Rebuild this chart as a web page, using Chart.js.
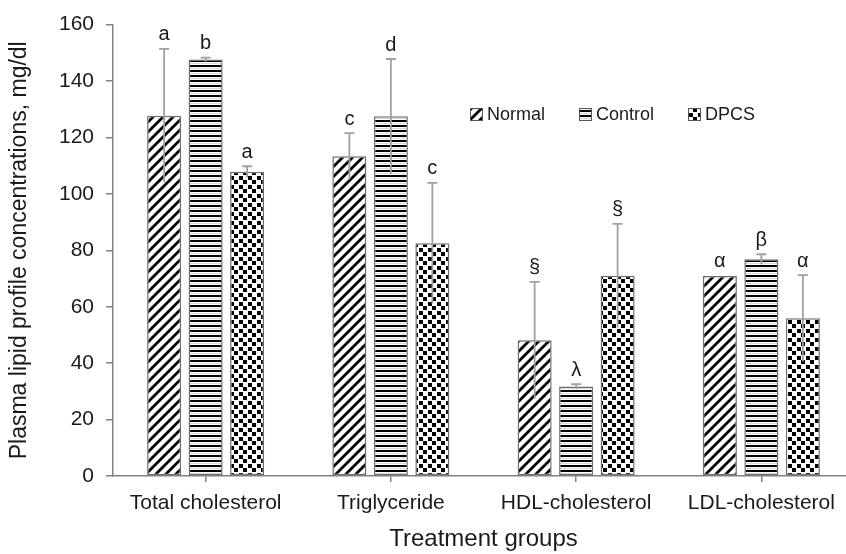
<!DOCTYPE html>
<html>
<head>
<meta charset="utf-8">
<script src="https://cdn.jsdelivr.net/npm/chart.js@4.4.0/dist/chart.umd.min.js"></script>
<style>
html,body{margin:0;padding:0;background:#fff;overflow:hidden;}
#wrap{width:846px;height:554px;overflow:hidden;position:relative;}
canvas{display:block;}
</style>
</head>
<body>
<div id="wrap"><canvas id="c" width="870" height="554"></canvas></div>
<script>
const categories = ['Total cholesterol', 'Triglyceride', 'HDL-cholesterol', 'LDL-cholesterol'];
const seriesNames = ['Normal', 'Control', 'DPCS'];
const normalValues = [127.7, 113.3, 48.1, 70.9];
const controlValues = [147.6, 127.5, 31.7, 76.8];
const dpcsValues = [107.8, 82.5, 71.0, 55.9];
const normalErrors = [23.7, 8.2, 20.7, 0];
const controlErrors = [0.7, 20.3, 0.9, 1.8];
const dpcsErrors = [2.0, 21.4, 18.4, 15.3];
const normalLetters = ['a', 'c', '§', 'α'];
const controlLetters = ['b', 'd', 'λ', 'β'];
const dpcsLetters = ['a', 'c', '§', 'α'];
const yMin = 0, yMax = 160, yStep = 20;
const axisTitleX = 'Treatment groups';
const axisTitleY = 'Plasma lipid profile concentrations, mg/dl';

const FONT = "'Liberation Sans', Arial, sans-serif";
const TXT = '#1a1a1a';
const AXIS = '#808080';

function makePattern(type) {
  const c = document.createElement('canvas');
  const ctx = c.getContext('2d');
  if (type === 'diag') {
    const s = 10;
    c.width = s; c.height = s;
    ctx.fillStyle = '#fff'; ctx.fillRect(0, 0, s, s);
    ctx.strokeStyle = '#000'; ctx.lineWidth = 2.8;
    ctx.beginPath();
    ctx.moveTo(-s, 2 * s); ctx.lineTo(2 * s, -s);
    ctx.moveTo(-s, s); ctx.lineTo(s, -s);
    ctx.moveTo(0, 2 * s); ctx.lineTo(2 * s, 0);
    ctx.stroke();
  } else if (type === 'horiz') {
    c.width = 4; c.height = 5;
    ctx.fillStyle = '#fff'; ctx.fillRect(0, 0, 4, 5);
    ctx.fillStyle = '#000'; ctx.fillRect(0, 0, 4, 2);
    ctx.fillStyle = '#d9d9d9'; ctx.fillRect(0, 3, 4, 1);
  } else {
    c.width = 9; c.height = 9;
    ctx.fillStyle = '#fff'; ctx.fillRect(0, 0, 9, 9);
    ctx.fillStyle = '#000';
    ctx.fillRect(0, 0, 4, 4);
    ctx.fillRect(5, 5, 4, 4);
  }
  return ctx.createPattern(c, 'repeat');
}

const patterns = [makePattern('diag'), makePattern('horiz'), makePattern('checker')];
const values = [normalValues, controlValues, dpcsValues];
const errors = [normalErrors, controlErrors, dpcsErrors];
const letters = [normalLetters, controlLetters, dpcsLetters];

const datasets = seriesNames.map((name, i) => ({
  label: name,
  data: values[i],
  backgroundColor: patterns[i],
  borderColor: '#6e6e6e',
  borderWidth: 1.5,
  borderSkipped: false,
  categoryPercentage: 0.672,
  barPercentage: 0.82
}));

const errorPlugin = {
  id: 'errorBars',
  afterDatasetsDraw(chart) {
    const ctx = chart.ctx;
    const ys = chart.scales.y;
    ctx.save();
    chart.data.datasets.forEach((ds, i) => {
      const meta = chart.getDatasetMeta(i);
      meta.data.forEach((bar, j) => {
        const v = values[i][j], e = errors[i][j];
        const x = bar.x;
        const yTop = ys.getPixelForValue(v + e);
        const yBot = ys.getPixelForValue(v - e);
        if (e > 0) {
          ctx.strokeStyle = '#a0a0a0';
          ctx.lineWidth = 1.8;
          ctx.beginPath();
          ctx.moveTo(x, yBot); ctx.lineTo(x, yTop);
          ctx.moveTo(x - 5, yTop); ctx.lineTo(x + 5, yTop);
          ctx.stroke();
        }
        ctx.fillStyle = TXT;
        ctx.font = '20px ' + FONT;
        ctx.textAlign = 'center';
        ctx.textBaseline = 'bottom';
        ctx.fillText(letters[i][j], x, yTop - 4);
      });
    });
    ctx.restore();
  }
};

const legendPlugin = {
  id: 'insideLegend',
  afterDraw(chart) {
    const ctx = chart.ctx;
    const xs = [470, 579, 688];
    const top = 108, size = 13;
    ctx.save();
    chart.data.datasets.forEach((ds, i) => {
      ctx.fillStyle = ds.backgroundColor;
      ctx.fillRect(xs[i], top, size, size);
      ctx.strokeStyle = '#555';
      ctx.lineWidth = 1;
      ctx.strokeRect(xs[i] + 0.5, top + 0.5, size - 1, size - 1);
      ctx.fillStyle = TXT;
      ctx.font = '18px ' + FONT;
      ctx.textAlign = 'left';
      ctx.textBaseline = 'middle';
      ctx.fillText(ds.label, xs[i] + 17, top + size / 2 + 1);
    });
    ctx.restore();
  }
};

new Chart(document.getElementById('c'), {
  type: 'bar',
  data: { labels: categories, datasets },
  options: {
    responsive: false,
    animation: false,
    devicePixelRatio: 1,
    layout: { padding: { top: 20, right: 16, left: 0, bottom: 0 } },
    plugins: { legend: { display: false }, tooltip: { enabled: false } },
    scales: {
      x: {
        offset: true,
        grid: { offset: false, drawOnChartArea: false, drawTicks: true, tickLength: 6, color: AXIS, lineWidth: 1.5 },
        border: { color: AXIS, width: 1.5 },
        ticks: { color: TXT, font: { family: FONT, size: 21 }, padding: 9, maxRotation: 0, autoSkip: false },
        title: { display: true, text: axisTitleX, color: TXT, font: { family: FONT, size: 24 }, padding: { top: 0, bottom: 0 } },
        afterFit(s) { s.height = 78; }
      },
      y: {
        min: yMin, max: yMax,
        ticks: { stepSize: yStep, color: TXT, font: { family: FONT, size: 21 }, padding: 12 },
        grid: { drawOnChartArea: false, drawTicks: true, tickLength: 7, color: AXIS, lineWidth: 1.5 },
        border: { color: AXIS, width: 1.5 },
        title: { display: true, text: axisTitleY, color: TXT, font: { family: FONT, size: 23 }, padding: { top: 6, bottom: 0 } },
        afterFit(s) { s.width = 113; }
      }
    }
  },
  plugins: [errorPlugin, legendPlugin]
});
</script>
</body>
</html>
